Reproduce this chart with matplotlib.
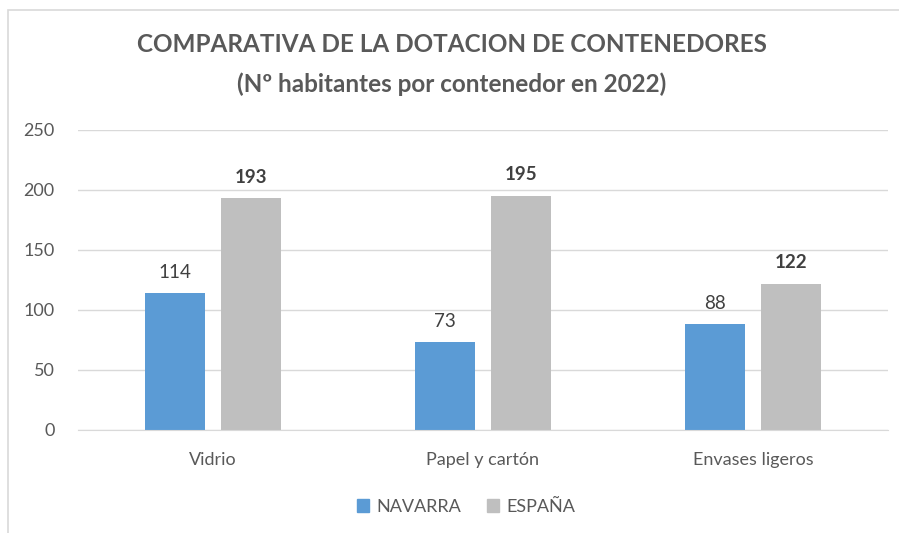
import matplotlib
matplotlib.use("Agg")
import matplotlib.pyplot as plt
from matplotlib.patches import Rectangle, Patch
import numpy as np

plt.rcParams['font.family'] = ['Lato', 'DejaVu Sans']

categorias = ["Vidrio", "Papel y cartón", "Envases ligeros"]
navarra = [114, 73, 88]
espana = [193, 195, 122]
series = ["NAVARRA", "ESPAÑA"]

azul = "#5B9BD5"
gris = "#BFBFBF"
texto = "#595959"

fig = plt.figure(figsize=(8.99, 5.33), dpi=100)
W, H = 899, 533
ax = fig.add_axes([78 / W, 1 - 430 / H, 810 / W, 300 / H])

x = np.arange(len(categorias))
ancho = 0.222
desp = 0.141
b1 = ax.bar(x - desp, navarra, ancho, color=azul)
b2 = ax.bar(x + desp, espana, ancho, color=gris)

for rect, v in zip(b1, navarra):
    ax.annotate(str(v), (rect.get_x() + rect.get_width() / 2, v),
                xytext=(0, 9), textcoords="offset points",
                ha="center", va="bottom", fontsize=13.5, color="#404040")
for rect, v in zip(b2, espana):
    ax.annotate(str(v), (rect.get_x() + rect.get_width() / 2, v),
                xytext=(0, 9), textcoords="offset points",
                ha="center", va="bottom", fontsize=13.5, color="#404040",
                fontweight="bold")

ax.set_xlim(-0.5, len(categorias) - 0.5)
ax.set_ylim(0, 250)
ax.set_yticks(range(0, 251, 50))
ax.set_xticks(x)
ax.set_xticklabels(categorias)
ax.yaxis.grid(True, color="#D9D9D9", linewidth=1)
ax.set_axisbelow(True)
for s in ["top", "right", "left"]:
    ax.spines[s].set_visible(False)
ax.spines["bottom"].set_color("#D9D9D9")
ax.tick_params(axis="both", length=0, labelsize=13, labelcolor=texto)
ax.tick_params(axis="y", pad=17)
ax.tick_params(axis="x", pad=16)

fig.text(452 / W, 1 - 45 / H, "COMPARATIVA DE LA DOTACION DE CONTENEDORES",
         ha="center", va="center", fontsize=17.5, fontweight="bold", color=texto)
fig.text(452 / W, 1 - 84 / H, "(Nº habitantes por contenedor en 2022)",
         ha="center", va="center", fontsize=17.5, fontweight="bold", color=texto)

handles = [Patch(color=azul), Patch(color=gris)]
fig.legend(handles, series, loc="center", bbox_to_anchor=(466 / W, 1 - 507 / H),
           ncol=2, frameon=False, fontsize=13, labelcolor=texto,
           handlelength=0.7, handleheight=0.7, handletextpad=0.4, columnspacing=1.4)

fig.patches.append(Rectangle((8 / W, -0.1), 1.2, 1 - 10 / H + 0.1,
                             transform=fig.transFigure, fill=False,
                             edgecolor="#D9D9D9", linewidth=1.2))

fig.savefig("out.png", dpi=100)
